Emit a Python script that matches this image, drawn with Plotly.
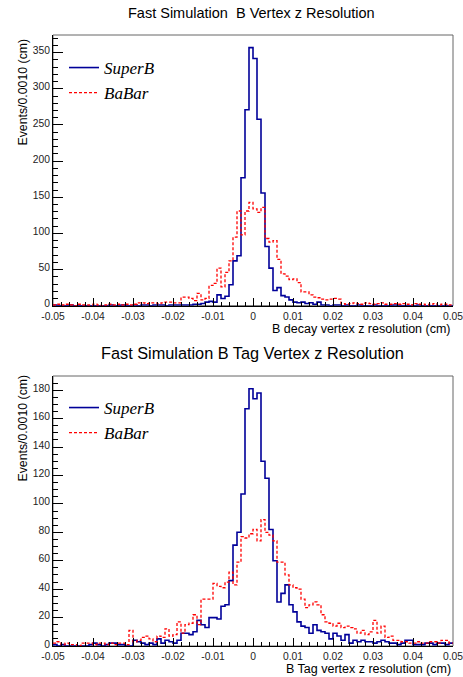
import numpy as np
import plotly.graph_objects as go

# ---------------- data ----------------
x_min, x_max, n_bins = -0.05, 0.05, 100

superb_decay = [1, 0, 0, 0, 1, 0, 0, 0, 0, 0,
                0, 0, 0, 0, 1, 0, 0, 1, 0, 0,
                1, 0, 1, 1, 0, 1, 1, 1, 0, 1,
                1, 1, 1, 1, 1, 2, 2, 3, 5, 6,
                5, 15, 10, 13, 29, 62, 69, 177, 271, 357,
                342, 258, 156, 82, 52, 21, 25, 14, 12, 8,
                5, 4, 5, 3, 4, 2, 5, 1, 1, 0,
                1, 1, 0, 1, 0, 0, 1, 0, 0, 0,
                1, 0, 0, 0, 0, 1, 0, 0, 0, 0,
                0, 1, 0, 0, 0, 0, 0, 0, 0, 0]

babar_decay = [1, 2, 1, 2, 1, 0, 2, 1, 1, 1,
               2, 1, 0, 1, 2, 1, 2, 1, 2, 1,
               2, 4, 4, 3, 4, 4, 3, 4, 5, 5,
               4, 4, 12, 12, 10, 7, 17, 8, 10, 28,
               31, 52, 26, 46, 62, 95, 131, 98, 131, 143,
               134, 129, 136, 93, 88, 90, 64, 44, 41, 36,
               37, 32, 19, 19, 15, 12, 11, 9, 8, 9,
               10, 9, 3, 2, 3, 4, 3, 2, 4, 3,
               2, 3, 4, 2, 2, 3, 2, 3, 2, 1,
               3, 2, 2, 1, 2, 3, 1, 2, 2, 1]

superb_tag = [1, 0, 1, 0, 0, 0, 0, 0, 0, 1,
              2, 1, 0, 1, 2, 2, 1, 1, 0, 0,
              4, 3, 2, 1, 2, 1, 5, 2, 4, 3,
              2, 4, 9, 9, 8, 10, 18, 15, 13, 20,
              20, 19, 28, 29, 46, 71, 80, 107, 167, 181,
              174, 178, 130, 118, 82, 60, 31, 37, 43, 29,
              24, 17, 14, 13, 9, 15, 11, 10, 9, 5,
              9, 7, 4, 8, 2, 4, 3, 4, 3, 3,
              2, 3, 4, 3, 2, 2, 1, 2, 4, 4,
              1, 1, 1, 2, 2, 1, 2, 2, 1, 2]

babar_tag = [2, 3, 1, 2, 1, 1, 0, 2, 2, 2,
             1, 2, 2, 1, 2, 1, 2, 2, 1, 11,
             3, 4, 6, 7, 5, 3, 7, 6, 12, 7,
             8, 17, 9, 15, 16, 22, 15, 33, 33, 33,
             44, 42, 41, 45, 52, 43, 59, 77, 76, 79,
             82, 74, 89, 80, 78, 74, 59, 59, 50, 43,
             41, 40, 33, 27, 29, 31, 29, 22, 17, 16,
             14, 16, 13, 14, 13, 12, 9, 11, 8, 10,
             18, 9, 14, 6, 7, 4, 4, 3, 3, 2,
             2, 3, 2, 2, 3, 3, 2, 4, 4, 2]

x_tick_vals = [-0.05, -0.04, -0.03, -0.02, -0.01, 0, 0.01, 0.02, 0.03, 0.04, 0.05]
x_tick_text = ["-0.05", "-0.04", "-0.03", "-0.02", "-0.01", "0",
               "0.01", "0.02", "0.03", "0.04", "0.05"]

edges = np.linspace(x_min, x_max, n_bins + 1)


def step_y(v):
    return list(v) + [v[-1]]


BLUE = "#000099"
RED = "#ff0000"
SANS = "Liberation Sans, Arial, Helvetica, sans-serif"
SERIF = "Liberation Serif, Times New Roman, serif"

fig = go.Figure()

fig.add_trace(go.Scatter(x=edges, y=step_y(superb_decay), mode="lines", line_shape="hv",
                         line=dict(color=BLUE, width=1.6), name="SuperB",
                         xaxis="x", yaxis="y", legend="legend"))
fig.add_trace(go.Scatter(x=edges, y=step_y(babar_decay), mode="lines", line_shape="hv",
                         line=dict(color=RED, width=1.3, dash="3px,2px"), name="BaBar",
                         xaxis="x", yaxis="y", legend="legend"))
fig.add_trace(go.Scatter(x=edges, y=step_y(superb_tag), mode="lines", line_shape="hv",
                         line=dict(color=BLUE, width=1.6), name="SuperB",
                         xaxis="x2", yaxis="y2", legend="legend2"))
fig.add_trace(go.Scatter(x=edges, y=step_y(babar_tag), mode="lines", line_shape="hv",
                         line=dict(color=RED, width=1.3, dash="3px,2px"), name="BaBar",
                         xaxis="x2", yaxis="y2", legend="legend2"))

W, H = 463, 677
ml, mr, mt, mb = 53, 10, 35, 31
ph = H - mt - mb
pw = W - ml - mr


def py(pix):
    """pixel row -> paper y"""
    return 1 - (pix - mt) / ph


def px(pix):
    return (pix - ml) / pw


top_dom = [py(305.7), 1.0]
bot_dom = [0.0, py(376)]

eps = 1e-7
xaxis_common = dict(range=[x_min - eps, x_max + eps], showline=True, linecolor="black", linewidth=1,
                    ticks="inside", ticklen=8, tickcolor="black", tickwidth=1,
                    tickmode="array", tickvals=x_tick_vals, ticktext=x_tick_text,
                    ticklabeloverflow="allow", automargin=False, ticklabelstandoff=1,
                    minor=dict(ticks="inside", ticklen=4, dtick=0.002, tick0=-0.05,
                               tickcolor="black", showgrid=False),
                    showgrid=False, zeroline=False,
                    tickfont=dict(family=SANS, size=10.3, color="#222"))

yaxis_common = dict(showline=True, linecolor="black", ticks="inside", ticklen=10,
                    tickcolor="black", tick0=0, automargin=False, ticklabelshift=-2,
                    showgrid=False, zeroline=False,
                    tickfont=dict(family=SANS, size=10.3, color="#222"))

legend_font = dict(family=SERIF, size=17, style="italic", color="black")

fig.update_layout(
    width=W, height=H,
    margin=dict(l=ml, r=mr, t=mt, b=mb, autoexpand=False),
    plot_bgcolor="white", paper_bgcolor="white",
    showlegend=True,
    xaxis=dict(domain=[0, 1], anchor="y", **xaxis_common),
    xaxis2=dict(domain=[0, 1], anchor="y2", **xaxis_common),
    yaxis=dict(domain=top_dom, anchor="x", range=[0, 374.5], dtick=50,
               minor=dict(ticks="inside", ticklen=5, dtick=10, tickcolor="black", showgrid=False),
               **yaxis_common),
    yaxis2=dict(domain=bot_dom, anchor="x2", range=[0, 190], dtick=20,
                minor=dict(ticks="inside", ticklen=5, dtick=5, tickcolor="black", showgrid=False),
                **yaxis_common),
    legend=dict(x=px(64), y=py(50), xanchor="left", yanchor="top",
                bgcolor="rgba(0,0,0,0)", itemwidth=30, tracegroupgap=0, font=legend_font),
    legend2=dict(x=px(64), y=py(390), xanchor="left", yanchor="top",
                 bgcolor="rgba(0,0,0,0)", itemwidth=30, tracegroupgap=0, font=legend_font),
)

# frames (top/right in grey)
for xr, yr in (("x domain", "y domain"), ("x2 domain", "y2 domain")):
    fig.add_shape(type="rect", xref=xr, yref=yr, x0=0, x1=1, y0=0, y1=1,
                  line=dict(color="#666", width=1), layer="below")

ann = [
    dict(text="Fast Simulation  B Vertex z Resolution", x=px(251), y=py(13),
         font=dict(family=SANS, size=14.5, color="black")),
    dict(text="Fast Simulation B Tag Vertex z Resolution", x=px(252.5), y=py(353),
         font=dict(family=SANS, size=16.3, color="black")),
]
for a in ann:
    fig.add_annotation(xref="paper", yref="paper", xanchor="center", yanchor="middle",
                       showarrow=False, **a)

for txt, yc in (("B decay vertex z resolution (cm)", 329), ("B Tag vertex z resolution (cm)", 669)):
    fig.add_annotation(text=txt, xref="paper", yref="paper", x=px(453), y=py(yc),
                       xanchor="right", yanchor="middle", showarrow=False,
                       font=dict(family=SANS, size=12.5, color="black"))

for ytop in (37, 373):
    fig.add_annotation(text="Events/0.0010 (cm)", xref="paper", yref="paper", x=px(22), y=py(ytop),
                       xanchor="center", yanchor="top", textangle=-90, showarrow=False,
                       font=dict(family=SANS, size=12.3, color="black"))

fig.write_html("out.html")
